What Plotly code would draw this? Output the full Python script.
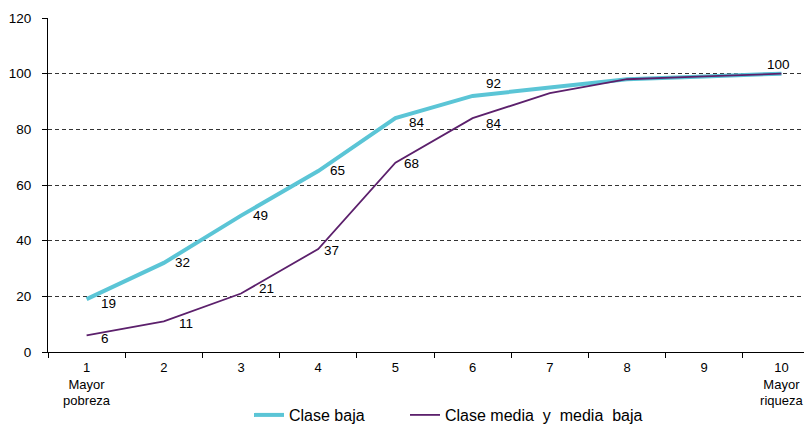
import plotly.graph_objects as go

categories = ["1<br>Mayor<br>pobreza", "2", "3", "4", "5", "6", "7", "8", "9", "10<br>Mayor<br>riqueza"]
clase_baja = [19, 32, 49, 65, 84, 92, 95, 98, 99, 100]
clase_media = [6, 11, 21, 37, 68, 84, 93, 98, 99, 100]
baja_labeled = [True, True, True, True, True, True, False, False, False, True]
media_labeled = [True, True, True, True, True, True, False, False, False, False]
y_ticks = [0, 20, 40, 60, 80, 100, 120]

# label offsets in pixels (style only)
baja_shift = [(22, -4), (19, 0), (19, 0), (19, 1), (22, -4), (21, 12), (0, 0), (0, 0), (0, 0), (-3, 9)]
media_shift = [(18, -3), (22, -2), (25, 5), (13, -1), (16, -1), (21, -5), (0, 0), (0, 0), (0, 0), (0, 0)]

CYAN = "#5BC5D6"
PURPLE = "#5C206C"
FONT = "Liberation Sans, Arial, sans-serif"

# page body has an 8px margin; the figure is sized to fill the rest of the window
W, H = 804, 416

fig = go.Figure()
fig.add_trace(go.Scatter(x=categories, y=clase_baja, mode="lines", name="Clase baja",
                         line=dict(color=CYAN, width=4), legend="legend"))
fig.add_trace(go.Scatter(x=categories, y=clase_media, mode="lines", name="Clase media  y  media  baja",
                         line=dict(color=PURPLE, width=1.8), legend="legend2"))

anns = []
for i, (v, show, (dx, dy)) in enumerate(zip(clase_baja, baja_labeled, baja_shift)):
    if show:
        anns.append(dict(x=i, y=v, text=str(v), showarrow=False, xshift=dx, yshift=dy,
                         font=dict(size=13.5, color="#000", family=FONT)))
for i, (v, show, (dx, dy)) in enumerate(zip(clase_media, media_labeled, media_shift)):
    if show:
        anns.append(dict(x=i, y=v, text=str(v), showarrow=False, xshift=dx, yshift=dy,
                         font=dict(size=13.5, color="#000", family=FONT)))

legend_common = dict(orientation="h", xref="container", yref="container",
                     yanchor="middle", xanchor="left", y=1 - 407 / H,
                     font=dict(size=16, color="#000", family=FONT),
                     bgcolor="rgba(0,0,0,0)", itemwidth=30)

fig.update_layout(
    width=W, height=H,
    margin=dict(l=40, r=0, t=10, b=72, pad=0),
    paper_bgcolor="white", plot_bgcolor="white",
    font=dict(family=FONT, size=13.5, color="#000"),
    annotations=anns,
    showlegend=True,
    legend=dict(legend_common, x=241 / W),
    legend2=dict(legend_common, x=397 / W),
    xaxis=dict(type="category", range=[-0.5, 9.396], tickson="boundaries",
               ticks="outside", ticklen=5, tickcolor="#000", tickwidth=1,
               showline=True, linecolor="#000", linewidth=1,
               showgrid=False, zeroline=False, automargin=False,
               ticklabelstandoff=3,
               tickfont=dict(size=13, family=FONT, color="#000")),
    yaxis=dict(range=[0, 120], tickvals=y_ticks, ticks="outside", ticklen=5,
               tickcolor="#000", tickwidth=1,
               showline=True, linecolor="#000", linewidth=1,
               showgrid=True, gridcolor="#333", gridwidth=1, griddash="4px,3px",
               zeroline=False, ticklabelstandoff=8, automargin=False,
               tickfont=dict(size=13.5, family=FONT, color="#000")),
)

fig.write_html("out.html")
